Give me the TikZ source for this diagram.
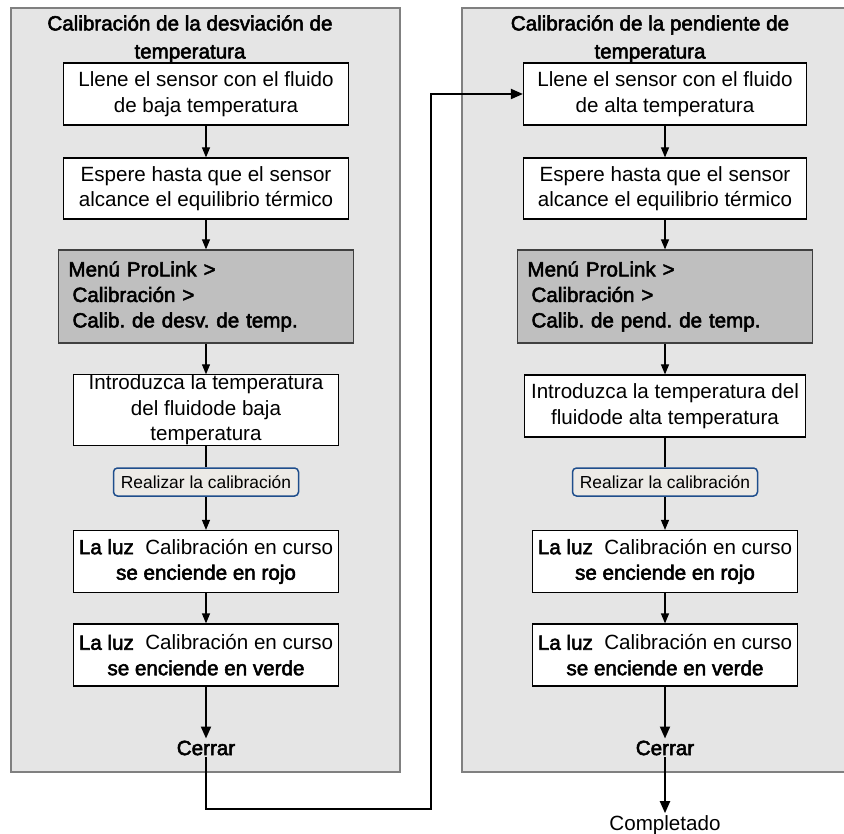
\documentclass[tikz,border=0pt]{standalone}
\usepackage{fontspec}
\setmainfont{Liberation Sans}
\newfontfamily\heavy{Liberation Sans}[FakeBold=2.6]
\usetikzlibrary{arrows.meta,backgrounds,fit,calc}
\frenchspacing

\definecolor{btnblue}{HTML}{1F4E8C}
\definecolor{btnfill}{HTML}{ECEAE6}
\newcommand{\bodysize}{\fontsize{20.6}{25.5}\selectfont}

\tikzset{
  panel/.style={draw=black!50, line width=1.5pt, fill=black!10, inner sep=0pt},
  paneltitle/.style={align=center, inner sep=0pt, font=\heavy\fontsize{20.6}{28}\selectfont},
  stepbox/.style={draw=black, fill=white, line width=1.2pt, align=center, inner sep=0pt, font=\bodysize},
  menubox/.style={draw=black!75, fill=black!25, line width=1.2pt, align=left, inner xsep=10pt,
                  inner ysep=0pt, text width=275pt, minimum height=93pt, font=\heavy\bodysize},
  runbtn/.style={draw=btnblue, fill=btnfill, line width=1.5pt, rounded corners=4pt, minimum width=185pt,
                 minimum height=28pt, inner sep=0pt, font=\fontsize{17.4}{20}\selectfont},
  endlabel/.style={font=\heavy\bodysize, inner sep=2pt},
  flow/.style={line width=1.2pt, -{Triangle[length=10pt,width=8pt]}},
  bigflow/.style={line width=2pt, -{Triangle[length=12pt,width=10pt]}},
  plain/.style={line width=1.2pt}
}

\begin{document}
\begin{tikzpicture}[x=1pt, y=-1pt]
  \useasboundingbox (0,0) rectangle (844,834);

  % left column: offset
  \node[paneltitle] at (190,39) (ltitle) {Calibración de la desviación de\\temperatura};
  \node[stepbox, minimum width=285pt, minimum height=62pt] at (206,94) (lb1)
  {Llene el sensor con el fluido\\de baja temperatura};
  \node[stepbox, minimum width=285pt, minimum height=61pt, below of = lb1, node distance = 94.5pt] (lb2)
  {Espere hasta que el sensor\\alcance el equilibrio térmico};
  \node[menubox, below of = lb2, node distance = 108pt] (lb3)
  {Menú ProLink >\\\hspace*{4pt}Calibración >\\\hspace*{4pt}Calib. de desv. de temp.};
  \node[stepbox, minimum width=265pt, minimum height=70pt, below of = lb3, node distance = 113.5pt] (lb4)
  {Introduzca la temperatura\\del fluidode baja\\temperatura};
  \node[runbtn, below of = lb4, node distance = 72pt] (lbtn) {Realizar la calibración};
  \node[stepbox, minimum width=265pt, minimum height=62pt, below of = lbtn, node distance = 79.5pt] (lb5)
  {{\heavy La luz}\ \ Calibración en curso\\{\heavy se enciende en rojo}};
  \node[stepbox, minimum width=265pt, minimum height=62pt, below of = lb5, node distance = 93.5pt] (lb6)
  {{\heavy La luz}\ \ Calibración en curso\\{\heavy se enciende en verde}};
  \node[endlabel, below of = lb6, node distance = 93pt] (lcl) {Cerrar};

  % right column: slope
  \node[paneltitle] at (650,39) (rtitle) {Calibración de la pendiente de\\temperatura};
  \node[stepbox, minimum width=283pt, minimum height=62pt] at (665,94) (rb1)
  {Llene el sensor con el fluido\\de alta temperatura};
  \node[stepbox, minimum width=283pt, minimum height=61pt, below of = rb1, node distance = 94.5pt] (rb2)
  {Espere hasta que el sensor\\alcance el equilibrio térmico};
  \node[menubox, below of = rb2, node distance = 108pt] (rb3)
  {Menú ProLink >\\\hspace*{4pt}Calibración >\\\hspace*{4pt}Calib. de pend. de temp.};
  \node[stepbox, minimum width=281pt, minimum height=62pt, below of = rb3, node distance = 109.5pt] (rb4)
  {Introduzca la temperatura del\\fluidode alta temperatura};
  \node[runbtn, below of = rb4, node distance = 76pt] (rbtn) {Realizar la calibración};
  \node[stepbox, minimum width=265pt, minimum height=62pt, below of = rbtn, node distance = 79.5pt] (rb5)
  {{\heavy La luz}\ \ Calibración en curso\\{\heavy se enciende en rojo}};
  \node[stepbox, minimum width=265pt, minimum height=62pt, below of = rb5, node distance = 93.5pt] (rb6)
  {{\heavy La luz}\ \ Calibración en curso\\{\heavy se enciende en verde}};
  \node[endlabel, below of = rb6, node distance = 93pt] (rcl) {Cerrar};
  \node[font=\bodysize, inner sep=2pt, below of = rcl, node distance = 77pt] (rdone) {Completado};

  \draw[flow] (lb1) -- (lb2);
  \draw[flow] (lb2) -- (lb3);
  \draw[flow] (lb3) -- (lb4);
  \draw[plain] (lb4) -- (lbtn);
  \draw[flow] (lbtn) -- (lb5);
  \draw[flow] (lb5) -- (lb6);
  \draw[bigflow] (lb6) -- (lcl);

  \draw[flow] (rb1) -- (rb2);
  \draw[flow] (rb2) -- (rb3);
  \draw[flow] (rb3) -- (rb4);
  \draw[plain] (rb4) -- (rbtn);
  \draw[flow] (rbtn) -- (rb5);
  \draw[flow] (rb5) -- (rb6);
  \draw[bigflow] (rb6) -- (rcl);
  \draw[bigflow] (rcl) -- (rdone);

  % hand-over from the first panel to the second
  \coordinate (jog) at (431,809);
  \draw[bigflow] (lcl.south) |- (jog) |- (rb1.west);

  \begin{pgfonlayer}{background}
    \node[panel, fit={(11,8) (400,772)}] (lpanel) {};
    \node[panel, fit={(462,8) (852,772)}] (rpanel) {};
  \end{pgfonlayer}

\end{tikzpicture}
\end{document}
